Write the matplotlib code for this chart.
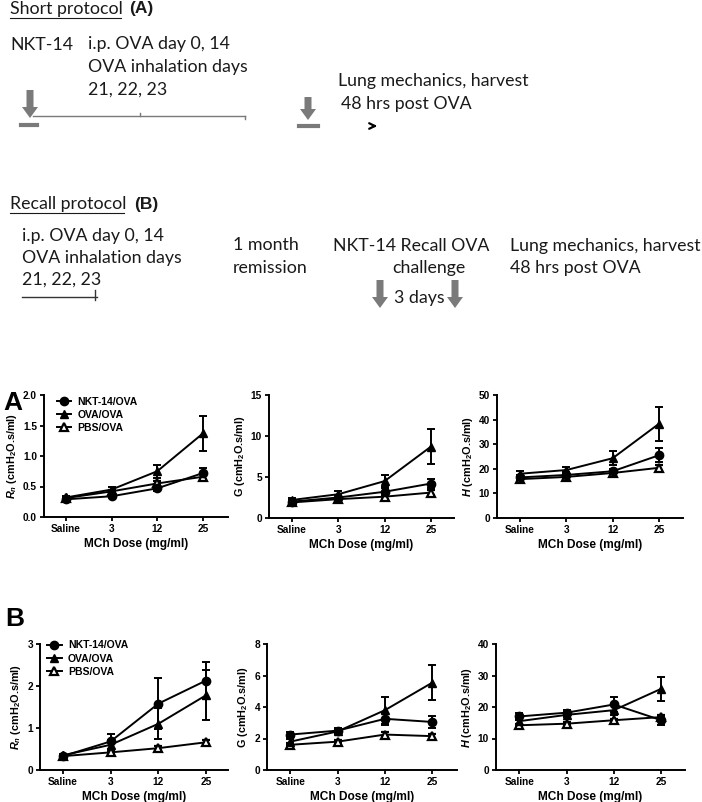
import matplotlib
matplotlib.use("Agg")
import matplotlib.pyplot as plt
from matplotlib.lines import Line2D
import numpy as np

# ---- data ----
doses = ["Saline", "3", "12", "25"]
groups = ["NKT-14/OVA", "OVA/OVA", "PBS/OVA"]

# short protocol (A)
a_rn_nkt = [0.29, 0.34, 0.47, 0.72]
a_rn_nkt_err = [0.02, 0.03, 0.04, 0.09]
a_rn_ova = [0.32, 0.45, 0.75, 1.37]
a_rn_ova_err = [0.03, 0.04, 0.11, 0.29]
a_rn_pbs = [0.31, 0.42, 0.55, 0.66]
a_rn_pbs_err = [0.02, 0.03, 0.04, 0.05]

a_g_nkt = [2.0, 2.5, 3.2, 4.2]
a_g_nkt_err = [0.2, 0.3, 0.5, 0.6]
a_g_ova = [2.2, 2.9, 4.5, 8.7]
a_g_ova_err = [0.2, 0.4, 0.7, 2.1]
a_g_pbs = [1.9, 2.3, 2.6, 3.1]
a_g_pbs_err = [0.15, 0.2, 0.3, 0.35]

a_h_nkt = [16.5, 17.5, 19.0, 25.5]
a_h_nkt_err = [1.0, 1.0, 1.0, 2.8]
a_h_ova = [18.0, 19.5, 24.3, 38.3]
a_h_ova_err = [1.0, 1.3, 2.8, 7.0]
a_h_pbs = [15.8, 16.7, 18.3, 20.4]
a_h_pbs_err = [0.8, 0.8, 0.8, 1.2]

# recall protocol (B)
b_rn_nkt = [0.33, 0.68, 1.58, 2.13]
b_rn_nkt_err = [0.03, 0.17, 0.6, 0.45]
b_rn_ova = [0.35, 0.6, 1.1, 1.78]
b_rn_ova_err = [0.03, 0.12, 0.37, 0.6]
b_rn_pbs = [0.33, 0.42, 0.52, 0.66]
b_rn_pbs_err = [0.03, 0.04, 0.04, 0.05]

b_g_nkt = [2.25, 2.5, 3.25, 3.05]
b_g_nkt_err = [0.15, 0.15, 0.4, 0.4]
b_g_ova = [1.8, 2.45, 3.8, 5.55]
b_g_ova_err = [0.15, 0.15, 0.85, 1.1]
b_g_pbs = [1.6, 1.8, 2.25, 2.15]
b_g_pbs_err = [0.1, 0.1, 0.15, 0.15]

b_h_nkt = [17.0, 18.2, 20.8, 15.8]
b_h_nkt_err = [1.0, 0.8, 2.5, 1.5]
b_h_ova = [15.5, 17.5, 19.0, 25.8]
b_h_ova_err = [0.8, 0.8, 1.5, 3.8]
b_h_pbs = [14.2, 14.7, 15.8, 16.8]
b_h_pbs_err = [0.5, 0.5, 0.5, 0.8]

plt.rcParams['font.family'] = ['Liberation Sans', 'DejaVu Sans']
plt.rcParams['mathtext.fontset'] = 'custom'
plt.rcParams['mathtext.rm'] = 'Liberation Sans:bold'
plt.rcParams['mathtext.bf'] = 'Liberation Sans:bold'
plt.rcParams['mathtext.it'] = 'Liberation Sans:italic:bold'

W, H = 702, 802
fig = plt.figure(figsize=(W / 100, H / 100), dpi=100)

# ============================================
# PROTOCOL SCHEMATIC (pixel coordinates)
# ============================================
sk = fig.add_axes([0, 0, 1, 1])
sk.set_xlim(0, W)
sk.set_ylim(H, 0)
sk.axis('off')

tfont = dict(family=['Lato', 'DejaVu Sans'], fontsize=12.8, color='#1a1a1a', va='center')
gray = '#7a7a7a'


def down_arrow(x, y0, y1):
    sk.arrow(x, y0, 0, y1 - y0, width=7, head_width=16, head_length=11,
             length_includes_head=True, color=gray, lw=0)


# Short protocol (A)
sk.text(10, 9, "Short protocol", **tfont)
sk.plot([10, 121], [18, 18], color='#1a1a1a', lw=0.8)
sk.text(129, 9, "(A)", fontsize=12.5, fontweight='bold', color='#1a1a1a', va='center')
sk.text(10, 45, "NKT-14", **tfont)
sk.text(88, 44, "i.p. OVA day 0, 14", **tfont)
sk.text(88, 67, "OVA inhalation days", **tfont)
sk.text(88, 90, "21, 22, 23", **tfont)
down_arrow(30, 90, 118)
sk.plot([21, 37], [125, 125], color=gray, lw=3)
sk.plot([33, 245], [116, 116], color=gray, lw=1)
sk.plot([140, 140], [113, 116], color=gray, lw=1)
sk.plot([245, 245], [116, 119], color=gray, lw=1)
down_arrow(308, 97, 120)
sk.plot([299, 318], [126, 126], color=gray, lw=3)
sk.text(338, 81, "Lung mechanics, harvest", **tfont)
sk.text(341, 104, "48 hrs post OVA", **tfont)
sk.annotate('', xy=(380, 126), xytext=(370, 126),
            arrowprops=dict(arrowstyle='->', lw=1.6, color='black'))

# Recall protocol (B)
sk.text(10, 204, "Recall protocol", **tfont)
sk.plot([10, 124], [213, 213], color='#1a1a1a', lw=0.8)
sk.text(134, 204, "(B)", fontsize=12.5, fontweight='bold', color='#1a1a1a', va='center')
sk.text(22, 236, "i.p. OVA day 0, 14", **tfont)
sk.text(22, 258, "OVA inhalation days", **tfont)
sk.text(22, 280, "21, 22, 23", **tfont)
sk.plot([22, 97], [297, 297], color='#333333', lw=1)
sk.plot([95, 95], [290, 300], color='#333333', lw=1)
sk.text(233, 245, "1 month", **tfont)
sk.text(233, 268, "remission", **tfont)
sk.text(333, 246, "NKT-14 Recall OVA", **tfont)
sk.text(392, 268, "challenge", **tfont)
sk.text(394, 298, "3 days", **tfont)
down_arrow(380, 280, 308)
down_arrow(455, 280, 308)
sk.text(510, 246, "Lung mechanics, harvest", **tfont)
sk.text(510, 268, "48 hrs post OVA", **tfont)

# ============================================
# LUNG MECHANICS PANELS
# ============================================


def add_panel(left, right, top, bottom, xlim):
    ax = fig.add_axes([left / W, 1 - bottom / H, (right - left) / W, (bottom - top) / H])
    ax.set_xlim(*xlim)
    for s in ['top', 'right']:
        ax.spines[s].set_visible(False)
    for s in ['left', 'bottom']:
        ax.spines[s].set_linewidth(1.4)
    ax.tick_params(direction='out', length=3, width=1.3, labelsize=7.3, pad=2)
    ax.set_xticks(range(len(doses)))
    ax.set_xticklabels(doses, fontweight='bold')
    ax.set_xlabel("MCh Dose (mg/ml)", fontsize=8.6, fontweight='bold', labelpad=3)
    return ax


def draw(ax, nkt, nkt_e, ova, ova_e, pbs, pbs_e):
    x = np.arange(len(doses))
    kw = dict(color='black', lw=1.4, capsize=3.2, capthick=1.4, elinewidth=1.4, ms=6)
    ax.errorbar(x, pbs, yerr=pbs_e, marker='^', mfc='white', mec='black', mew=1.6, **kw)
    ax.errorbar(x, ova, yerr=ova_e, marker='^', mfc='black', **kw)
    ax.errorbar(x, nkt, yerr=nkt_e, marker='o', mfc='black', **kw)


def set_y(ax, ticks, fmt, label):
    ax.set_ylim(ticks[0], ticks[-1])
    ax.set_yticks(ticks)
    ax.set_yticklabels([fmt.format(t) for t in ticks], fontweight='bold')
    ax.set_ylabel(label, fontsize=7.8, fontweight='bold', labelpad=3)


unit = " (cmH$_2$O.s/ml)"
panels = [
    ((44, 228, 395, 517, (-0.48, 3.55)), (a_rn_nkt, a_rn_nkt_err, a_rn_ova, a_rn_ova_err, a_rn_pbs, a_rn_pbs_err),
     [0, 0.5, 1.0, 1.5, 2.0], "{:.1f}", "$R_n$" + unit),
    ((269, 454, 395, 518, (-0.5, 3.5)), (a_g_nkt, a_g_nkt_err, a_g_ova, a_g_ova_err, a_g_pbs, a_g_pbs_err),
     [0, 5, 10, 15], "{:d}", "G" + unit),
    ((497, 683, 395, 518, (-0.5, 3.52)), (a_h_nkt, a_h_nkt_err, a_h_ova, a_h_ova_err, a_h_pbs, a_h_pbs_err),
     [0, 10, 20, 30, 40, 50], "{:d}", "$H$" + unit),
    ((40, 228, 644, 770, (-0.48, 3.46)), (b_rn_nkt, b_rn_nkt_err, b_rn_ova, b_rn_ova_err, b_rn_pbs, b_rn_pbs_err),
     [0, 1, 2, 3], "{:d}", "$R_n$" + unit),
    ((267, 457, 644, 770, (-0.49, 3.52)), (b_g_nkt, b_g_nkt_err, b_g_ova, b_g_ova_err, b_g_pbs, b_g_pbs_err),
     [0, 2, 4, 6, 8], "{:d}", "G" + unit),
    ((496, 685, 644, 770, (-0.49, 3.5)), (b_h_nkt, b_h_nkt_err, b_h_ova, b_h_ova_err, b_h_pbs, b_h_pbs_err),
     [0, 10, 20, 30, 40], "{:d}", "$H$" + unit),
]

axes = []
for geom, series, ticks, fmt, label in panels:
    ax = add_panel(*geom)
    draw(ax, *series)
    set_y(ax, ticks, fmt, label)
    axes.append(ax)

# legend handles: line + marker only, like the reference
handles = [
    Line2D([], [], color='black', lw=1.4, marker='o', ms=6, mfc='black'),
    Line2D([], [], color='black', lw=1.4, marker='^', ms=6, mfc='black'),
    Line2D([], [], color='black', lw=1.4, marker='^', ms=6, mfc='white', mew=1.6),
]
for ax, anchor in [(axes[0], (0.04, 1.03)), (axes[3], (0.01, 1.07))]:
    ax.legend(handles, groups, loc='upper left',
              bbox_to_anchor=anchor, frameon=False, handlelength=1.4,
              handletextpad=0.6, labelspacing=0.3, borderpad=0,
              prop=dict(family='Liberation Sans', weight='bold', size=7.5))

fig.text(3 / W, 1 - 403 / H, "A", fontsize=19, fontweight='bold', va='center')
fig.text(5 / W, 1 - 619 / H, "B", fontsize=19, fontweight='bold', va='center')

fig.savefig("out.png", dpi=100)
